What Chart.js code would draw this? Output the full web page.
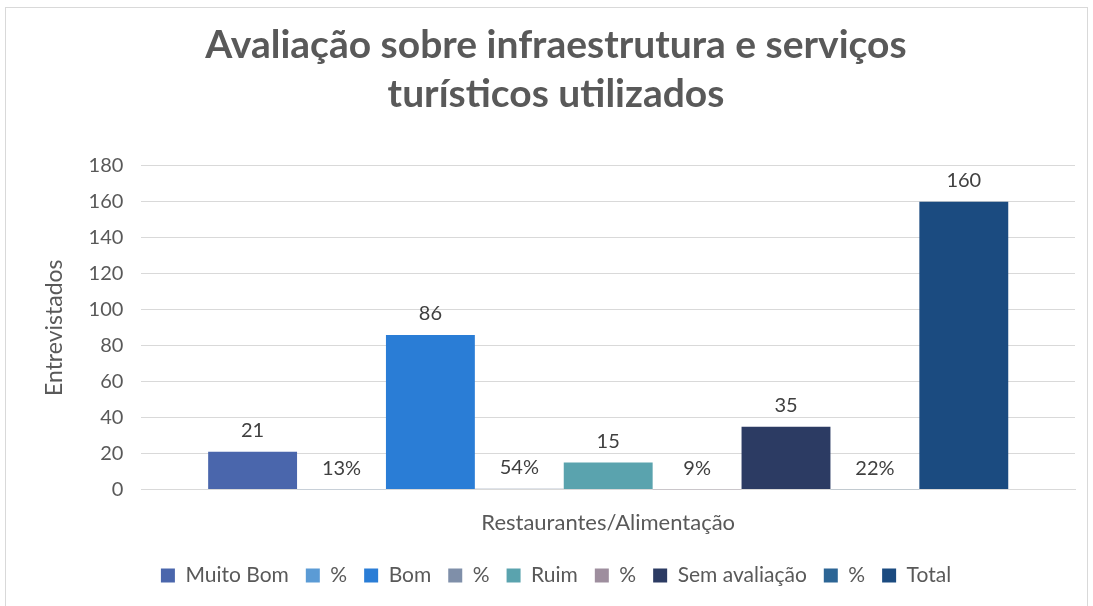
<!DOCTYPE html>
<html>
<head>
<meta charset="utf-8">
<script src="https://cdn.jsdelivr.net/npm/chart.js@4"></script>
<style>
  html, body { margin: 0; padding: 0; background: #fff; }
  #wrap { width: 1093px; height: 606px; position: relative; }
</style>
</head>
<body>
<div id="wrap"><canvas id="chart"></canvas></div>
<script>
// data
const categories = ['Restaurantes/Alimentação'];
const seriesNames = ['Muito Bom', '%', 'Bom', '%', 'Ruim', '%', 'Sem avaliação', '%', 'Total'];
const seriesValues = [21, 0.13, 86, 0.54, 15, 0.09, 35, 0.22, 160];
const isPercent = [false, true, false, true, false, true, false, true, false];
const seriesColors = ['#4a66ac', '#5b9bd5', '#2a7dd6', '#7f8fa9', '#5aa3ae', '#9e8e9e', '#2c3b63', '#2c6595', '#1b4b80'];
const yTicks = { min: 0, max: 180, step: 20 };

const textColor = '#595959';
const fontFamily = 'Lato, "Open Sans", sans-serif';

// frame around the chart
const framePlugin = {
    id: 'frame',
    beforeDraw(chart) {
        const ctx = chart.ctx;
        ctx.save();
        ctx.fillStyle = '#fff';
        ctx.fillRect(0, 0, chart.width, chart.height);
        ctx.strokeStyle = '#d9d9d9';
        ctx.lineWidth = 1;
        ctx.strokeRect(5.5, 7.5, 1082, 610);
        ctx.restore();
    }
};

// value labels above every bar
const labelPlugin = {
    id: 'barLabels',
    afterDatasetsDraw(chart) {
        const ctx = chart.ctx;
        ctx.save();
        ctx.fillStyle = '#404040';
        ctx.font = '20px ' + fontFamily;
        ctx.textAlign = 'center';
        ctx.textBaseline = 'bottom';
        chart.data.datasets.forEach((ds, i) => {
            const meta = chart.getDatasetMeta(i);
            meta.data.forEach((bar, j) => {
                const v = ds.data[j];
                const txt = isPercent[i] ? Math.round(v * 100) + '%' : String(v);
                ctx.fillText(txt, bar.x, bar.y - 11);
            });
        });
        ctx.restore();
    }
};

const datasets = seriesNames.map((name, i) => ({
    label: name,
    data: [seriesValues[i]],
    backgroundColor: seriesColors[i],
    borderWidth: 0,
    barPercentage: 1.0,
    categoryPercentage: 0.857
}));

const ctx = document.getElementById('chart').getContext('2d');
window.myChart = new Chart(ctx, {
    type: 'bar',
    data: {
        labels: categories,
        datasets: datasets
    },
    plugins: [framePlugin, labelPlugin],
    options: {
        responsive: true,
        maintainAspectRatio: false,
        animation: false,
        layout: { padding: { top: 14, left: 37, right: 18, bottom: 10 } },
        plugins: {
            title: {
                display: true,
                text: ['Avaliação sobre infraestrutura e serviços', 'turísticos utilizados'],
                color: textColor,
                font: { family: fontFamily, size: 39, weight: 'bold', lineHeight: 1.28 },
                padding: { top: 6, bottom: 46 }
            },
            legend: {
                position: 'bottom',
                labels: {
                    color: textColor,
                    font: { family: fontFamily, size: 21 },
                    boxWidth: 14,
                    boxHeight: 14,
                    padding: 17
                }
            },
            tooltip: { enabled: false }
        },
        scales: {
            x: {
                grid: { display: false },
                border: { color: '#d9d9d9' },
                ticks: { color: textColor, font: { family: fontFamily, size: 22 }, padding: 12 }
            },
            y: {
                min: yTicks.min,
                max: yTicks.max,
                ticks: { stepSize: yTicks.step, color: textColor, font: { family: fontFamily, size: 20 }, padding: 18 },
                grid: { color: '#d9d9d9', drawTicks: false },
                border: { display: false },
                title: {
                    display: true,
                    text: 'Entrevistados',
                    color: textColor,
                    font: { family: fontFamily, size: 23 },
                    padding: { bottom: 2 }
                }
            }
        }
    }
});
</script>
</body>
</html>
